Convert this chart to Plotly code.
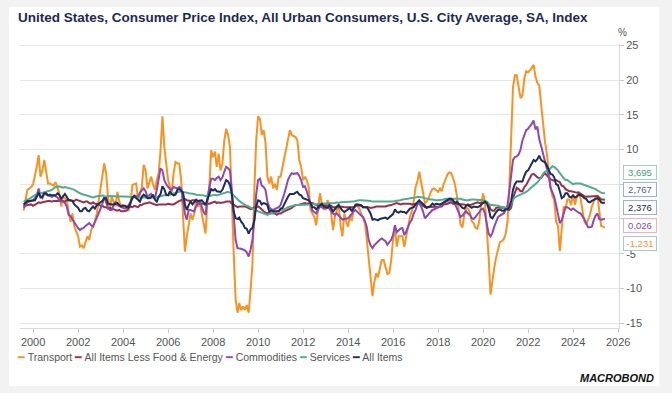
import pandas as pd
import plotly.graph_objects as go

# ---------------- data (monthly, Jul 1999 - May 2025), % y/y ----------------
start_month = "1999-07-31"

transport = [
    1.2, 3.0, 4.2, 4.4, 4.6, 5.0,
    6.1, 7.5, 9.2, 6.1, 7.0, 8.5, 6.8, 5.1, 5.1, 5.0, 4.8, 5.3,
    4.6, 3.7, 1.8, 3.2, 3.0, 2.7, 1.0, -0.4, 0.8, -1.1, -1.8, -2.5,
    -4.0, -3.8, -4.2, -3.2, -2.5, -3.0, -1.6, -1.0, -0.4, 0.8, 2.5, 4.2,
    6.1, 8.0, 6.6, 3.2, 1.3, 3.2, 2.5, 1.8, 3.9, 2.5, 2.0, 2.0,
    1.8, 1.5, 1.3, 2.2, 4.9, 5.0, 5.1, 2.7, 3.6, 4.6, 7.8, 7.0,
    4.4, 5.2, 6.1, 5.0, 4.2, 5.6, 6.6, 9.9, 14.8, 10.4, 7.5, 5.6,
    4.6, 3.9, 6.6, 8.2, 8.0, 8.0, 5.6, 0.3, -4.7, -2.5, -1.1, 0.8,
    -0.1, 0.8, 2.7, 1.8, 2.2, 0.8, -0.4, -2.1, 2.4, 4.6, 9.9, 8.9,
    9.7, 7.5, 9.4, 7.0, 8.0, 11.3, 13.0, 12.1, 10.4, 1.8, -4.9, -11.6,
    -13.5, -12.1, -13.1, -12.6, -13.1, -12.4, -13.5, -10.2, -6.5, 4.2, 11.3, 14.8,
    14.4, 12.1, 12.8, 11.0, 6.1, 5.1, 6.1, 4.4, 5.1, 4.2, 6.1, 6.1,
    7.5, 8.8, 9.9, 11.8, 12.8, 12.1, 12.0, 11.8, 11.3, 8.5, 7.5, 5.6,
    6.1, 5.6, 4.6, 1.3, 0.8, 0.3, -0.9, 1.8, 3.7, 2.2, 1.8, 1.3,
    2.7, 2.2, 0.8, -1.6, 0.3, 1.3, 2.2, -1.0, -2.5, 0.8, -0.4, -1.1,
    0.6, -0.3, 1.3, 2.2, 1.8, 1.5, 0.8, 0.1, -0.6, -3.0, -5.9, -8.8,
    -11.1, -9.2, -7.8, -8.4, -6.9, -5.9, -5.9, -6.9, -7.9, -7.8, -6.0, -3.0,
    -1.1, -4.0, -2.5, -2.5, -2.5, -4.0, -2.5, -0.6, 0.3, 1.2, 2.5, 4.6,
    5.5, 6.8, 5.3, 3.8, 2.3, 2.5, 3.0, 3.8, 4.3, 4.4, 4.2, 3.9,
    4.4, 4.0, 5.0, 5.8, 6.4, 6.7, 6.6, 5.9, 5.0, 3.4, 1.2, -0.8,
    -1.2, 0.5, 1.6, 1.5, 1.0, -0.3, -0.6, -1.3, -1.4, -0.3, 2.0, 3.7,
    2.4, -1.0, -5.5, -10.9, -8.8, -7.0, -5.5, -4.2, -3.3, -3.2, -2.9, -2.2,
    -0.4, 4.2, 10.6, 19.0, 20.7, 20.7, 19.0, 17.4, 17.8, 20.2, 21.3, 21.1,
    21.4, 21.8, 22.2, 20.5, 19.6, 19.2, 16.5, 13.3, 11.2, 9.5, 6.5, 4.5,
    3.3, 2.8, -0.4, -1.0, -4.6, -1.5, 1.8, 1.5, 2.8, 2.8, 2.0, 3.5,
    2.0, 3.2, 3.9, 3.0, 1.0, -0.3, -0.8, -0.2, 0.6, 1.8, 2.6, 3.2,
    3.3, 1.5, -1.0, -1.1, -1.231,
]

core = [
    2.1, 1.9, 2.0, 2.1, 2.1, 1.9,
    2.0, 2.2, 2.4, 2.3, 2.4, 2.5, 2.5, 2.6, 2.6, 2.5, 2.6, 2.6,
    2.6, 2.7, 2.7, 2.6, 2.5, 2.7, 2.7, 2.7, 2.6, 2.6, 2.8, 2.7,
    2.6, 2.6, 2.4, 2.5, 2.5, 2.3, 2.2, 2.4, 2.2, 2.2, 2.0, 1.9,
    1.9, 1.7, 1.7, 1.5, 1.6, 1.5, 1.5, 1.3, 1.2, 1.3, 1.1, 1.1,
    1.1, 1.2, 1.6, 1.8, 1.7, 1.9, 1.8, 1.7, 2.0, 2.0, 2.2, 2.2,
    2.3, 2.4, 2.3, 2.2, 2.2, 2.0, 2.1, 2.1, 2.0, 2.1, 2.1, 2.2,
    2.1, 2.1, 2.1, 2.3, 2.4, 2.6, 2.7, 2.8, 2.9, 2.7, 2.6, 2.6,
    2.7, 2.7, 2.5, 2.3, 2.2, 2.2, 2.2, 2.1, 2.1, 2.2, 2.3, 2.4,
    2.5, 2.3, 2.4, 2.3, 2.3, 2.4, 2.5, 2.5, 2.5, 2.2, 2.0, 1.8,
    1.7, 1.8, 1.8, 1.9, 1.8, 1.7, 1.5, 1.4, 1.5, 1.7, 1.7, 1.8,
    1.6, 1.3, 1.1, 0.9, 0.9, 0.9, 0.9, 0.9, 0.8, 0.6, 0.8, 0.8,
    1.0, 1.1, 1.2, 1.3, 1.5, 1.6, 1.8, 2.0, 2.0, 2.1, 2.2, 2.2,
    2.3, 2.2, 2.3, 2.3, 2.3, 2.2, 2.1, 1.9, 2.0, 2.0, 1.9, 1.9,
    1.9, 2.0, 1.9, 1.7, 1.7, 1.6, 1.7, 1.8, 1.7, 1.7, 1.7, 1.7,
    1.6, 1.6, 1.7, 1.8, 2.0, 1.9, 1.9, 1.7, 1.7, 1.8, 1.7, 1.6,
    1.6, 1.7, 1.8, 1.8, 1.7, 1.8, 1.8, 1.8, 1.9, 1.9, 2.0, 2.1,
    2.2, 2.3, 2.2, 2.1, 2.2, 2.2, 2.2, 2.3, 2.2, 2.1, 2.1, 2.2,
    2.3, 2.2, 2.0, 1.9, 1.7, 1.7, 1.7, 1.7, 1.7, 1.8, 1.7, 1.8,
    1.8, 1.8, 2.1, 2.1, 2.2, 2.3, 2.4, 2.2, 2.2, 2.1, 2.2, 2.2,
    2.2, 2.1, 2.0, 2.1, 2.0, 2.1, 2.2, 2.4, 2.4, 2.3, 2.3, 2.3,
    2.3, 2.4, 2.1, 1.4, 1.2, 1.2, 1.6, 1.7, 1.7, 1.6, 1.6, 1.6,
    1.4, 1.3, 1.6, 3.0, 3.8, 4.5, 4.3, 4.0, 4.0, 4.6, 4.9, 5.5,
    6.0, 6.4, 6.5, 6.2, 6.0, 5.9, 5.9, 6.3, 6.6, 6.3, 6.0, 5.7,
    5.6, 5.5, 5.6, 5.5, 5.3, 4.8, 4.7, 4.3, 4.1, 4.0, 4.0, 3.9,
    3.9, 3.8, 3.8, 3.6, 3.4, 3.3, 3.2, 3.2, 3.3, 3.3, 3.3, 3.2,
    3.3, 3.1, 2.8, 2.8, 2.767,
]

commodities = [
    1.6, 2.0, 2.4, 2.5, 2.6, 2.7,
    3.0, 3.5, 4.4, 3.3, 3.0, 3.7, 3.5, 3.4, 3.2, 3.2, 3.4, 3.3,
    3.1, 2.7, 2.5, 2.5, 2.3, 1.8, 0.6, 0.4, -0.1, -0.5, -0.9, -1.3,
    -1.6, -1.4, -1.3, -1.0, -0.8, -0.6, -0.9, -1.1, -0.4, 0.1, 0.8, 1.5,
    2.2, 3.2, 2.2, 1.6, 1.3, 1.3, 2.0, 2.5, 2.0, 1.8, 1.7, 1.6,
    1.5, 1.8, 2.0, 2.5, 2.9, 3.4, 3.3, 3.2, 3.8, 4.2, 4.4, 4.0,
    3.2, 3.4, 3.6, 3.2, 2.9, 4.2, 5.5, 7.3, 7.0, 5.6, 5.0, 4.6,
    4.3, 4.2, 4.6, 4.5, 4.4, 4.6, 4.4, 2.7, 0.8, -0.1, 1.3, 1.3,
    1.2, 1.1, 1.8, 2.3, 2.7, 1.8, 1.0, 0.6, 3.0, 4.5, 5.8, 5.8,
    5.6, 5.9, 6.1, 5.6, 6.0, 6.8, 7.5, 7.3, 7.0, 4.0, 0.5, -3.0,
    -4.2, -4.2, -4.3, -4.4, -4.5, -4.8, -5.4, -4.4, -3.0, -0.1, 3.5, 5.6,
    5.8, 4.8, 4.6, 4.2, 2.5, 1.7, 1.4, 1.3, 1.4, 1.5, 1.7, 2.0,
    2.7, 3.6, 4.6, 5.6, 6.2, 6.6, 6.5, 6.6, 6.6, 6.2, 5.6, 4.6,
    4.7, 4.0, 3.0, 2.0, 1.2, 1.0, 0.8, 1.3, 1.8, 1.7, 1.5, 1.6,
    1.8, 1.5, 1.1, 0.8, 0.6, 0.8, 0.5, 0.2, -0.1, 0.0, 0.0, 0.1,
    0.4, 0.8, 1.1, 1.3, 1.0, 0.8, 0.5, 0.3, -0.3, -1.2, -3.0, -3.8,
    -4.2, -3.8, -3.5, -3.2, -3.0, -2.8, -3.0, -3.2, -3.7, -3.3, -3.0, -2.3,
    -0.9, -1.9, -1.6, -1.4, -1.3, -2.3, -1.8, -1.1, -0.5, -0.1, 0.8, 1.3,
    2.2, 2.5, 1.8, 1.1, 0.1, 0.4, 0.8, 1.0, 1.3, 1.4, 1.5, 1.7,
    1.8, 2.2, 2.3, 2.5, 2.6, 2.7, 2.6, 2.5, 2.2, 1.6, 0.8, 0.3,
    0.5, 0.8, 1.1, 0.8, 0.6, 0.1, 0.0, 0.3, 0.6, 1.0, 1.4, 1.5,
    0.8, -0.8, -2.1, -2.5, -2.0, -1.1, -0.3, 0.3, 0.5, 0.6, 0.8, 1.3,
    2.0, 3.9, 6.4, 8.5, 8.9, 9.0, 9.3, 10.0, 11.3, 12.2, 12.8, 13.0,
    13.3, 13.7, 14.2, 12.9, 13.3, 11.5, 10.5, 9.5, 8.4, 7.5, 6.2, 4.5,
    3.8, 3.2, 2.0, 0.5, -0.6, -0.2, 0.6, 1.7, 1.7, 1.5, 1.3, 1.5,
    1.3, 1.0, 0.9, 0.8, 0.4, 0.0, -0.6, -1.2, -1.2, -1.1, -0.2, 0.5,
    0.8, 0.0, -0.1, 0.0, 0.026,
]

services = [
    2.5, 2.7, 2.8, 2.9, 3.1, 3.3,
    3.4, 3.6, 3.6, 3.7, 3.8, 3.9, 3.9, 4.0, 4.1, 4.2, 4.4, 4.6,
    4.6, 4.7, 4.6, 4.5, 4.6, 4.5, 4.5, 4.4, 4.3, 4.2, 4.0, 3.9,
    3.7, 3.6, 3.5, 3.4, 3.3, 3.2, 3.2, 3.1, 3.2, 3.3, 3.3, 3.3,
    3.4, 3.3, 3.2, 3.3, 3.3, 3.3, 3.2, 3.3, 3.3, 3.2, 3.2, 3.2,
    3.3, 3.3, 3.3, 3.2, 3.1, 3.1, 3.0, 3.0, 3.1, 3.0, 3.0, 3.0,
    3.1, 3.1, 3.0, 3.1, 3.0, 3.1, 3.2, 3.3, 3.4, 3.4, 3.4, 3.4,
    3.5, 3.6, 3.7, 3.8, 3.9, 3.9, 4.0, 3.9, 3.9, 3.8, 3.7, 3.7,
    3.7, 3.6, 3.5, 3.5, 3.4, 3.4, 3.4, 3.3, 3.4, 3.3, 3.4, 3.4,
    3.5, 3.4, 3.5, 3.5, 3.6, 3.7, 3.8, 3.9, 3.8, 3.7, 3.4, 3.1,
    2.8, 2.6, 2.4, 2.2, 2.1, 1.9, 1.8, 1.6, 1.4, 1.3, 1.2, 1.1,
    1.0, 0.8, 0.7, 0.6, 0.6, 0.7, 0.8, 0.9, 1.0, 1.0, 1.1, 1.2,
    1.3, 1.4, 1.5, 1.7, 1.8, 1.9, 1.9, 2.0, 2.0, 2.0, 2.0, 2.0,
    2.1, 2.1, 2.0, 2.1, 2.1, 2.2, 2.1, 2.2, 2.2, 2.3, 2.2, 2.2,
    2.2, 2.3, 2.2, 2.3, 2.3, 2.4, 2.3, 2.4, 2.4, 2.5, 2.4, 2.5,
    2.5, 2.5, 2.5, 2.6, 2.7, 2.7, 2.7, 2.7, 2.7, 2.7, 2.6, 2.6,
    2.5, 2.5, 2.5, 2.4, 2.4, 2.5, 2.5, 2.4, 2.5, 2.5, 2.5, 2.5,
    2.6, 2.6, 2.7, 2.7, 2.8, 2.8, 2.9, 2.9, 3.0, 3.0, 3.0, 3.1,
    3.2, 3.2, 3.2, 3.1, 3.0, 2.9, 2.8, 2.8, 2.8, 2.7, 2.7, 2.7,
    2.7, 2.7, 2.8, 2.9, 2.9, 3.0, 3.0, 3.0, 2.9, 2.9, 2.9, 2.9,
    2.8, 2.7, 2.7, 2.7, 2.8, 2.8, 2.8, 2.8, 2.7, 2.8, 2.8, 2.7,
    2.6, 2.5, 2.2, 2.0, 2.0, 2.0, 2.0, 1.9, 1.8, 1.8, 1.7, 1.6,
    1.5, 1.6, 2.2, 2.8, 3.1, 3.3, 3.4, 3.5, 3.6, 3.8, 3.9, 4.1,
    4.4, 4.6, 4.8, 5.0, 5.3, 5.6, 6.1, 6.5, 6.8, 6.9, 7.1, 7.3,
    7.6, 7.5, 7.3, 7.0, 6.6, 6.2, 5.9, 5.6, 5.6, 5.4, 5.2, 5.0,
    5.1, 5.1, 5.2, 5.1, 5.0, 4.9, 4.8, 4.8, 4.6, 4.6, 4.4, 4.3,
    4.1, 3.9, 3.8, 3.7, 3.695,
]

all_items = [
    2.1, 2.3, 2.6, 2.6, 2.6, 2.7,
    2.7, 3.2, 3.8, 3.1, 3.2, 3.7, 3.7, 3.4, 3.5, 3.4, 3.4, 3.4,
    3.7, 3.5, 2.9, 3.3, 3.6, 3.2, 2.7, 2.7, 2.6, 2.1, 1.9, 1.6,
    1.1, 1.1, 1.5, 1.6, 1.2, 1.1, 1.5, 1.8, 1.5, 2.0, 2.2, 2.4,
    2.6, 3.0, 3.0, 2.2, 2.1, 2.1, 2.1, 2.2, 2.3, 2.0, 1.8, 1.9,
    1.9, 1.7, 1.7, 2.3, 3.1, 3.3, 3.0, 2.7, 2.5, 3.2, 3.5, 3.3,
    3.0, 3.0, 3.1, 3.5, 2.8, 2.5, 3.2, 3.6, 4.7, 4.3, 3.5, 3.4,
    4.0, 3.6, 3.4, 3.5, 4.2, 4.3, 4.1, 3.8, 2.1, 1.3, 2.0, 2.5,
    2.1, 2.4, 2.8, 2.6, 2.7, 2.7, 2.4, 2.0, 2.8, 3.5, 4.3, 4.1,
    4.3, 4.0, 4.0, 3.9, 4.2, 5.0, 5.6, 5.4, 4.9, 3.7, 1.1, 0.1,
    0.0, 0.2, -0.4, -0.7, -1.3, -1.4, -2.1, -1.5, -1.3, -0.2, 1.8, 2.7,
    2.6, 2.1, 2.3, 2.2, 2.0, 1.1, 1.2, 1.1, 1.1, 1.2, 1.1, 1.5,
    1.6, 2.1, 2.7, 3.2, 3.6, 3.6, 3.6, 3.8, 3.9, 3.5, 3.4, 3.0,
    2.9, 2.9, 2.7, 2.3, 1.7, 1.7, 1.4, 1.7, 2.0, 2.2, 1.8, 1.7,
    1.6, 2.0, 1.5, 1.1, 1.4, 1.8, 2.0, 1.5, 1.2, 1.0, 1.2, 1.5,
    1.6, 1.1, 1.5, 2.0, 2.1, 2.1, 2.0, 1.7, 1.7, 1.7, 1.3, 0.8,
    -0.1, 0.0, -0.1, -0.2, 0.0, 0.1, 0.2, 0.2, 0.0, 0.2, 0.5, 0.7,
    1.4, 1.0, 0.9, 1.1, 1.0, 1.0, 0.8, 1.1, 1.5, 1.6, 1.7, 2.1,
    2.5, 2.7, 2.4, 2.2, 1.9, 1.6, 1.7, 1.9, 2.2, 2.0, 2.2, 2.1,
    2.1, 2.2, 2.4, 2.5, 2.8, 2.9, 2.9, 2.7, 2.3, 2.5, 2.2, 1.9,
    1.6, 1.5, 1.9, 2.0, 1.8, 1.6, 1.8, 1.7, 1.7, 1.8, 2.1, 2.3,
    2.5, 2.3, 1.5, 0.3, 0.1, 0.6, 1.0, 1.3, 1.4, 1.2, 1.2, 1.4,
    1.4, 1.7, 2.6, 4.2, 5.0, 5.4, 5.4, 5.3, 5.4, 6.2, 6.8, 7.0,
    7.5, 7.9, 8.5, 8.3, 8.6, 9.1, 8.5, 8.3, 8.2, 7.7, 7.1, 6.5,
    6.4, 6.0, 5.0, 4.9, 4.0, 3.0, 3.2, 3.7, 3.7, 3.2, 3.1, 3.4,
    3.1, 3.2, 3.5, 3.4, 3.3, 3.0, 2.9, 2.5, 2.4, 2.6, 2.7, 2.9,
    3.0, 2.8, 2.4, 2.3, 2.376,
]

series_names = ["Transport", "All Items Less Food & Energy", "Commodities", "Services", "All Items"]
series_colors = ["#F7931E", "#9E2F48", "#8E48B4", "#4FAE8B", "#1B2D5A"]
label_text_colors = ["#F7931E", "#4A5E9E", "#8E48B4", "#3E9E7C", "#1B2D5A"]
label_border_colors = ["#A9C3E3", "#9FB0D6", "#F2B3B8", "#9ED3BE", "#9FB0D6"]
x_tick_years = list(range(2000, 2027, 2))
y_ticks = [-15, -10, -5, 0, 5, 10, 15, 20, 25]
# the 0 and 5 labels sit behind the end-value boxes in the reference
y_tick_text = ["-15", "-10", "-5", "", "", "10", "15", "20", "25"]

title_text = "United States, Consumer Price Index, All Urban Consumers, U.S. City Average, SA, Index"

# ---------------- figure ----------------
all_series = [transport, core, commodities, services, all_items]
for s in all_series:
    assert len(s) == 311, len(s)
dates = pd.date_range(start_month, periods=len(transport), freq="ME")

W, H = 672, 393
ML, MR, MT, MB = 20, 53, 44, 65
PW, PH = W - ML - MR, H - MT - MB


def px_x(px):
    return (px - ML) / PW


def px_y(py):
    return (H - MB - py) / PH


fig = go.Figure()
for name, vals, col in zip(series_names, all_series, series_colors):
    fig.add_trace(go.Scatter(x=dates, y=vals, name=name, mode="lines",
                             line=dict(color=col, width=2), showlegend=False))

FONT = "Liberation Sans Narrow, Arial Narrow, Liberation Sans, Arial, sans-serif"

fig.update_layout(
    width=W, height=H,
    margin=dict(l=ML, r=MR, t=MT, b=MB),
    paper_bgcolor="#F2F2F2",
    plot_bgcolor="white",
    font=dict(family=FONT, size=11, color="#555555"),
    xaxis=dict(
        type="date",
        range=["1999-06-02", "2026-01-15"],
        tickvals=[f"{y}-01-01" for y in x_tick_years],
        ticktext=[str(y) for y in x_tick_years],
        ticks="outside", ticklen=4, tickcolor="#C8C8C8",
        showline=True, linecolor="#D9D9D9", linewidth=1,
        showgrid=False, zeroline=False,
        tickfont=dict(size=11, color="#555555"),
    ),
    yaxis=dict(
        side="right",
        range=[-15.7, 25.2],
        tickvals=y_ticks,
        ticktext=y_tick_text,
        ticks="outside", ticklen=4, tickcolor="#C8C8C8",
        showline=True, linecolor="#D9D9D9", linewidth=1,
        showgrid=True, gridcolor="#E6E6E6", gridwidth=1,
        zeroline=False,
        tickfont=dict(size=11, color="#555555"),
    ),
    shapes=[dict(type="rect", xref="paper", yref="paper", layer="below",
                 x0=px_x(9), x1=px_x(659), y0=px_y(386), y1=px_y(7),
                 fillcolor="white", line=dict(width=0))],
)

ann = []
ann.append(dict(text=f"<b>{title_text}</b>", xref="paper", yref="paper",
                x=px_x(16), y=px_y(17), xanchor="left", yanchor="middle",
                showarrow=False, font=dict(size=13.5, color="#1C2A56", family=FONT)))
ann.append(dict(text="%", xref="paper", yref="paper", x=px_x(622), y=px_y(32),
                xanchor="center", yanchor="middle", showarrow=False,
                font=dict(size=10, color="#555555")))

legend_parts = []
for name, col in zip(series_names, series_colors):
    legend_parts.append(f'<span style="color:{col}">━</span> {name.replace("&", "&amp;")}')
ann.append(dict(text=" ".join(legend_parts), xref="paper", yref="paper",
                x=px_x(15), y=px_y(357), xanchor="left", yanchor="middle",
                showarrow=False, font=dict(size=10.5, color="#555555")))

ann.append(dict(text="<b><i>MACROBOND</i></b>", xref="paper", yref="paper",
                x=px_x(656), y=px_y(378), xanchor="right", yanchor="middle",
                showarrow=False, font=dict(size=11, color="#111111")))

# end-value labels, de-overlapped vertically as in the reference
label_shift = {3: 21, 1: 10, 4: -5, 2: -6.5, 0: -15.5}
for i in [3, 1, 4, 2, 0]:
    v = all_series[i][-1]
    txt = f"{v:.3f}".replace(".", ",")
    ann.append(dict(text=txt, xref="paper", yref="y", x=px_x(623), y=v,
                    yshift=label_shift[i], xanchor="left", yanchor="middle",
                    showarrow=False, bgcolor="white",
                    bordercolor=label_border_colors[i], borderwidth=1, borderpad=0,
                    height=13, width=32,
                    font=dict(size=9.5, color=label_text_colors[i])))

fig.update_layout(annotations=ann)
fig.write_html("out.html", config={"displayModeBar": False},
               post_script="document.body.style.margin='0px';")
